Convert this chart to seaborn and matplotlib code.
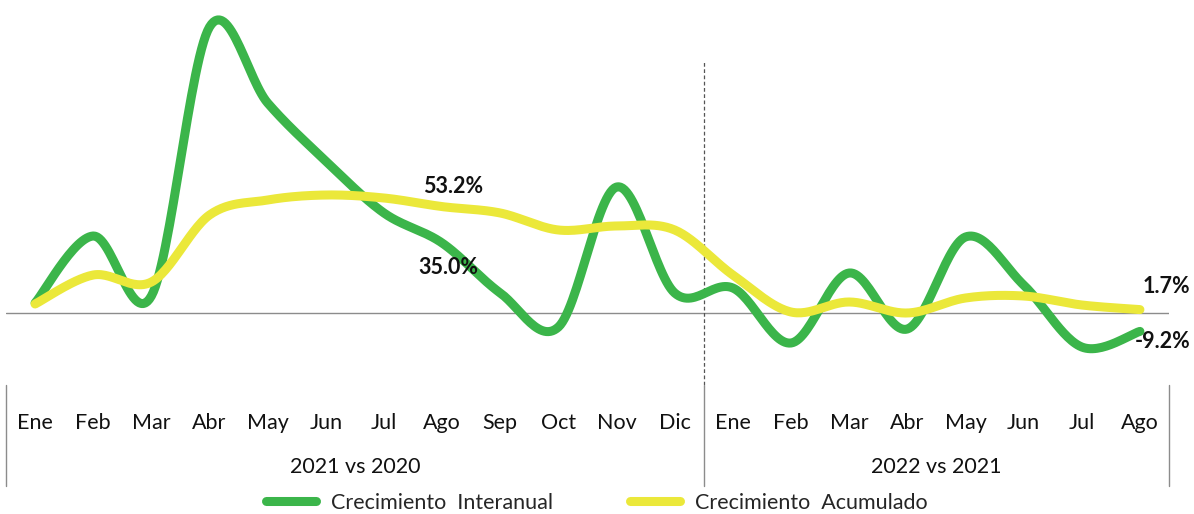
# Crecimiento interanual vs acumulado - smooth line chart (Excel style)

import numpy as np
import pandas as pd
import matplotlib.pyplot as plt
import matplotlib.transforms as mtransforms
from matplotlib.lines import Line2D
import seaborn as sns

# -----------------------------
# Data
# -----------------------------
months = ["Ene", "Feb", "Mar", "Abr", "May", "Jun", "Jul", "Ago", "Sep", "Oct", "Nov", "Dic",
          "Ene", "Feb", "Mar", "Abr", "May", "Jun", "Jul", "Ago"]
groups = ["2021 vs 2020", "2022 vs 2021"]
interanual = [5.0, 38.5, 8.5, 143.0, 105.0, 76.0, 50.0, 35.0, 10.0, -7.0,
              63.0, 10.0, 12.5, -15.0, 20.0, -8.0, 38.0, 14.0, -17.0, -9.2]
acumulado = [4.5, 19.0, 15.5, 49.0, 56.5, 59.0, 57.5, 53.2, 50.0, 41.5,
             43.5, 41.5, 19.0, 0.5, 5.5, 0.0, 7.5, 8.5, 4.0, 1.7]

GREEN = "#3BB54A"
YELLOW = "#EBE83A"

# -----------------------------
# Settings
# -----------------------------
sns.set_theme(style="white")
plt.rcParams["font.family"] = ["Lato", "DejaVu Sans"]
FS = 15.5


def smooth(y, n=30):
    # Excel-like smoothed line: Catmull-Rom bezier through the points
    y = np.asarray(y, dtype=float)
    x = np.arange(len(y), dtype=float)
    pts = np.column_stack([x, y])
    pts = np.vstack([pts[0], pts, pts[-1]])
    out = []
    t = np.linspace(0, 1, n)[:, None]
    for i in range(1, len(pts) - 2):
        p0, p1, p2, p3 = pts[i - 1], pts[i], pts[i + 1], pts[i + 2]
        c1 = p1 + (p2 - p0) / 6
        c2 = p2 - (p3 - p1) / 6
        seg = ((1 - t) ** 3) * p1 + 3 * ((1 - t) ** 2) * t * c1 + 3 * (1 - t) * t ** 2 * c2 + t ** 3 * p2
        out.append(seg if i == 1 else seg[1:])
    out = np.vstack(out)
    return pd.DataFrame({"x": out[:, 0], "y": out[:, 1]})


fig = plt.figure(figsize=(11.94, 5.14), dpi=100)
ax = fig.add_axes([6 / 1194, 129 / 514, 1163 / 1194, 385 / 514])

g_df = smooth(interanual)
y_df = smooth(acumulado)
sns.lineplot(data=g_df, x="x", y="y", ax=ax, color=GREEN, lw=6.5, sort=False,
             solid_capstyle="round", zorder=3)
sns.lineplot(data=y_df, x="x", y="y", ax=ax, color=YELLOW, lw=6.5, sort=False,
             solid_capstyle="round", zorder=4)

ax.set_xlim(-0.5, len(months) - 0.5)
ax.set_ylim(-36, 156.5)
ax.axhline(0, color="#8c8c8c", lw=1, zorder=1)
for s in ax.spines.values():
    s.set_visible(False)
ax.set_yticks([])
ax.set_xticks(range(len(months)))
ax.set_xticklabels(months, fontsize=FS, color="#111111")
ax.tick_params(axis="x", length=0, pad=20)
ax.set_xlabel("")
ax.set_ylabel("")

# separator between years
trans = mtransforms.blended_transform_factory(ax.transData, ax.transAxes)
ax.plot([11.5, 11.5], [0, 0.84], transform=trans,
        color="#555555", lw=0.9, ls=(0, (3, 2)), zorder=2)
for xv in [-0.5, 11.5, len(months) - 0.5]:
    ax.plot([xv, xv], [0, -0.262], transform=trans, color="#8c8c8c", lw=1, clip_on=False)

# group labels
ax.text(5.5, -0.214, groups[0], transform=trans, ha="center", va="center", fontsize=FS, color="#111111")
ax.text(15.5, -0.214, groups[1], transform=trans, ha="center", va="center", fontsize=FS, color="#111111")

# value labels
lbl = dict(textcoords="offset pixels", ha="center", va="center", fontsize=15.5, fontweight="bold", color="#111111")
ax.annotate(f"{acumulado[7]:.1f}%", xy=(7, acumulado[7]), xytext=(11, 20), **lbl)
ax.annotate(f"{interanual[7]:.1f}%", xy=(7, interanual[7]), xytext=(6, -24), **lbl)
ax.annotate(f"{acumulado[-1]:.1f}%", xy=(19, acumulado[-1]), xytext=(26, 23), **lbl)
ax.annotate(f"{interanual[-1]:.1f}%", xy=(19, interanual[-1]), xytext=(23, -10), **lbl)

# legend
handles = [Line2D([], [], color=GREEN, lw=6.5, solid_capstyle="round"),
           Line2D([], [], color=YELLOW, lw=6.5, solid_capstyle="round")]
fig.legend(handles, ["Crecimiento  Interanual", "Crecimiento  Acumulado"], loc="center",
           bbox_to_anchor=(0.5, 1 - 503 / 514), ncol=2, frameon=False, fontsize=FS,
           handlelength=2.3, handletextpad=0.7, columnspacing=3.6, borderpad=0)

fig.savefig("out.png", dpi=100)
